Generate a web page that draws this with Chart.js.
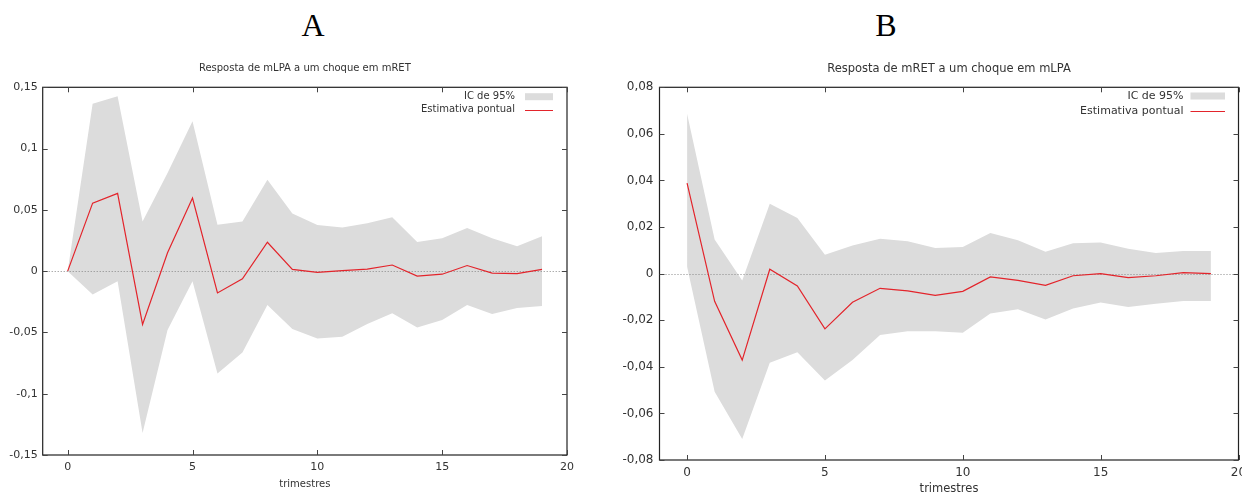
<!DOCTYPE html>
<html>
<head>
<meta charset="utf-8">
<script src="https://cdn.jsdelivr.net/npm/chart.js@4/dist/chart.umd.min.js"></script>
<style>
  body { margin: 0; width: 1242px; height: 493px; overflow: hidden; background: #fff; position: relative; }
  canvas { position: absolute; top: 0; }
  .panel { position: absolute; top: 9px; width: 60px; margin-left: -30px; text-align: center;
           font: 32px "Liberation Serif", "Times New Roman", serif; line-height: 32px; color: #000; }
</style>
</head>
<body>
<div class="panel" style="left:313px">A</div>
<div class="panel" style="left:886px">B</div>
<canvas id="chartA" width="610" height="493" style="left:0"></canvas>
<canvas id="chartB" width="632" height="503" style="left:610px"></canvas>
<script>
// horizon (trimestres)
const trimestres = [0, 1, 2, 3, 4, 5, 6, 7, 8, 9, 10, 11, 12, 13, 14, 15, 16, 17, 18, 19];

// A: resposta de mLPA a um choque em mRET
const estA   = [0, 0.0555, 0.0634, -0.0435, 0.015, 0.0596, -0.0178, -0.0063, 0.0236, 0.0014,
                -0.001, 0.0005, 0.0016, 0.005, -0.004, -0.0025, 0.0046, -0.0016, -0.002, 0.0014];
const icSupA = [0, 0.1365, 0.1427, 0.0406, 0.08, 0.1224, 0.0379, 0.0406, 0.0745, 0.0471,
                0.0376, 0.0357, 0.039, 0.0439, 0.0238, 0.0268, 0.0352, 0.0268, 0.0203, 0.0284];
const icInfA = [0, -0.0191, -0.0082, -0.132, -0.048, -0.0082, -0.0836, -0.0664, -0.0276, -0.0473,
                -0.0549, -0.0536, -0.0432, -0.0344, -0.0459, -0.0399, -0.0276, -0.035, -0.030, -0.0284];

// B: resposta de mRET a um choque em mLPA
const estB   = [0.0389, -0.0119, -0.0371, 0.0019, -0.0053, -0.0237, -0.0123, -0.0063, -0.0074, -0.0093,
                -0.0076, -0.0014, -0.0029, -0.005, -0.0009, 0, -0.0017, -0.0009, 0.0004, 0];
const icSupB = [0.0686, 0.0147, -0.0029, 0.030, 0.0239, 0.0081, 0.0121, 0.015, 0.0139, 0.011,
                0.0114, 0.0174, 0.0143, 0.0094, 0.013, 0.0134, 0.0107, 0.0089, 0.0097, 0.0097];
const icInfB = [0.003, -0.0507, -0.071, -0.0383, -0.0337, -0.0459, -0.0371, -0.0263, -0.0247, -0.0247,
                -0.0254, -0.0171, -0.0153, -0.0197, -0.015, -0.0124, -0.0143, -0.0129, -0.0117, -0.0117];

const labelIC = 'IC de 95%';
const labelEst = 'Estimativa pontual';
const xLabel = 'trimestres';

const GRAY = '#dcdcdc';
const RED = '#e3242b';
const TEXT = '#333';

Chart.defaults.font.family = "'DejaVu Sans', sans-serif";
Chart.defaults.font.size = 10;
Chart.defaults.color = TEXT;

function pts(vals) {
  return trimestres.map((t, i) => ({ x: t, y: vals[i] }));
}

function fmt(v) {
  return String(Math.round(v * 100) / 100).replace('.', ',');
}

// gnuplot-like frame, inward ticks, dotted zero line and legend inside the plot
const gnuplotLook = {
  id: 'gnuplotLook',
  beforeDatasetDraw(chart, args) {
    if (args.index !== 0) return;
    const { ctx, chartArea: a, scales: { y } } = chart;
    const y0 = Math.round(y.getPixelForValue(0)) + 0.5;
    ctx.save();
    ctx.strokeStyle = '#888';
    ctx.lineWidth = 1;
    ctx.setLineDash([1, 2]);
    ctx.beginPath();
    ctx.moveTo(a.left, y0);
    ctx.lineTo(a.right, y0);
    ctx.stroke();
    ctx.restore();
  },
  afterDraw(chart, args, o) {
    const { ctx, chartArea: a, scales: { x, y } } = chart;
    ctx.save();
    ctx.strokeStyle = '#222';
    ctx.lineWidth = 1.2;
    ctx.strokeRect(a.left, a.top, a.right - a.left, a.bottom - a.top);

    ctx.lineWidth = 1;
    ctx.strokeStyle = '#444';
    ctx.beginPath();
    x.ticks.forEach(t => {
      const px = Math.round(x.getPixelForValue(t.value)) + 0.5;
      ctx.moveTo(px, a.bottom); ctx.lineTo(px, a.bottom - 5);
      ctx.moveTo(px, a.top); ctx.lineTo(px, a.top + 5);
    });
    y.ticks.forEach(t => {
      const py = Math.round(y.getPixelForValue(t.value)) + 0.5;
      ctx.moveTo(a.left, py); ctx.lineTo(a.left + 5, py);
      ctx.moveTo(a.right, py); ctx.lineTo(a.right - 5, py);
    });
    ctx.stroke();

    // legend
    const items = [chart.data.datasets[1], chart.data.datasets[0]];
    ctx.font = o.fontSize + "px 'DejaVu Sans', sans-serif";
    ctx.textAlign = 'right';
    ctx.textBaseline = 'middle';
    items.forEach((ds, row) => {
      const ly = a.top + o.first + row * o.gap;
      ctx.fillStyle = TEXT;
      ctx.fillText(ds.label, a.right - o.textEnd, ly);
      if (ds.fill) {
        ctx.fillStyle = ds.backgroundColor;
        ctx.fillRect(a.right - o.boxStart, ly - 3.5, o.boxStart - o.boxEnd, 7);
      } else {
        ctx.strokeStyle = ds.borderColor;
        ctx.lineWidth = 1;
        ctx.beginPath();
        ctx.moveTo(a.right - o.boxStart, Math.round(ly) + 0.5);
        ctx.lineTo(a.right - o.boxEnd, Math.round(ly) + 0.5);
        ctx.stroke();
      }
    });
    ctx.restore();
  }
};

function makeChart(id, opts) {
  const f = opts.font;
  return new Chart(document.getElementById(id), {
    type: 'line',
    data: {
      datasets: [
        { label: labelEst, data: pts(opts.est), borderColor: RED, borderWidth: 1.2,
          pointRadius: 0, fill: false, tension: 0 },
        { label: labelIC, data: pts(opts.sup), borderWidth: 0, borderColor: 'rgba(0,0,0,0)',
          backgroundColor: GRAY, pointRadius: 0, fill: '+1', tension: 0 },
        { label: '', data: pts(opts.inf), borderWidth: 0, borderColor: 'rgba(0,0,0,0)',
          pointRadius: 0, fill: false, tension: 0 }
      ]
    },
    options: {
      responsive: false,
      animation: false,
      devicePixelRatio: 1,
      layout: { padding: { left: 0, right: opts.padRight, top: 0, bottom: 0 } },
      plugins: {
        legend: { display: false },
        tooltip: { enabled: false },
        title: {
          display: true,
          text: opts.title,
          fullSize: false,
          font: { size: f.title, weight: 'normal' },
          color: TEXT,
          padding: opts.titlePadding
        },
        gnuplotLook: opts.legend
      },
      scales: {
        x: {
          type: 'linear',
          min: -1,
          max: 20,
          grid: { display: false, drawTicks: false },
          border: { display: false },
          ticks: { stepSize: 5, includeBounds: false, padding: 6, font: { size: f.ticks }, maxRotation: 0 },
          title: { display: true, text: xLabel, font: { size: f.title }, padding: { top: 0, bottom: opts.xTitlePad } },
          afterFit(scale) {
            scale.height = opts.xHeight;
            scale.paddingLeft = 0;
            scale.paddingRight = 0;
          }
        },
        y: {
          min: opts.ymin,
          max: opts.ymax,
          grid: { display: false, drawTicks: false },
          border: { display: false },
          ticks: { stepSize: opts.step, padding: opts.yPad, font: { size: f.ticks }, callback: v => fmt(v) },
          afterFit(scale) {
            scale.width = opts.yWidth;
            scale.paddingTop = 0;
            scale.paddingBottom = 0;
          }
        }
      }
    },
    plugins: [gnuplotLook]
  });
}

makeChart('chartA', {
  title: 'Resposta de mLPA a um choque em mRET',
  est: estA, sup: icSupA, inf: icInfA,
  ymin: -0.15, ymax: 0.15, step: 0.05,
  font: { title: 10, ticks: 11 },
  titlePadding: { top: 62.5, bottom: 12.8 },
  yWidth: 42.7, padRight: 43, xHeight: 38, xTitlePad: 3, yPad: 5,
  legend: { fontSize: 10, first: 9.4, gap: 12.8, textEnd: 52, boxStart: 42, boxEnd: 14 }
});

makeChart('chartB', {
  title: 'Resposta de mRET a um choque em mLPA',
  est: estB, sup: icSupB, inf: icInfB,
  ymin: -0.08, ymax: 0.08, step: 0.02,
  font: { title: 11.5, ticks: 12 },
  titlePadding: { top: 62.1, bottom: 11.4 },
  yWidth: 49.5, padRight: 3.5, xHeight: 43, xTitlePad: 7, yPad: 6,
  legend: { fontSize: 11, first: 8.7, gap: 15, textEnd: 55, boxStart: 48, boxEnd: 13.5 }
});
</script>
</body>
</html>
